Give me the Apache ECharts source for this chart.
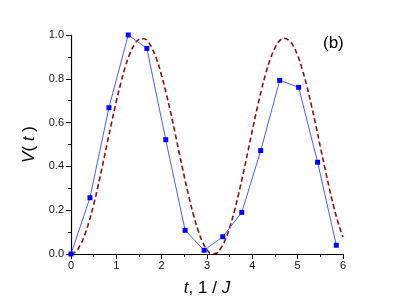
<!DOCTYPE html>
<html>
<head>
<meta charset="utf-8">
<script src="https://cdn.jsdelivr.net/npm/echarts@6/dist/echarts.min.js"></script>
<style>html,body{margin:0;padding:0;background:#fff}#c{width:399px;height:305px}</style>
</head>
<body>
<div id="c"></div>
<script>
// Blue squares (numerical V(t))
const pointT = [0, 0.418, 0.837, 1.262, 1.674, 2.09, 2.518, 2.937, 3.348, 3.767, 4.185, 4.604, 5.022, 5.44, 5.852];
const pointV = [0, 0.257, 0.668, 1.0, 0.939, 0.522, 0.108, 0.017, 0.079, 0.19, 0.472, 0.793, 0.761, 0.419, 0.04];
// Dashed curve samples
const curveT = [0,0.1,0.2,0.3,0.4,0.5,0.6,0.7,0.8,0.9,1.0,1.1,1.2,1.3,1.4,1.5,1.6,1.7,1.8,1.9,2.0,2.1,2.2,2.3,2.4,2.5,2.6,2.7,2.8,2.9,3.0,3.1,3.2,3.3,3.4,3.5,3.6,3.7,3.8,3.9,4.0,4.1,4.2,4.3,4.4,4.5,4.6,4.7,4.8,4.9,5.0,5.1,5.2,5.3,5.4,5.5,5.6,5.7,5.8,5.9,6.0];
const curveV = [0,0.010,0.039,0.086,0.149,0.226,0.314,0.409,0.507,0.604,0.697,0.782,0.856,0.915,0.956,0.980,0.983,0.969,0.934,0.882,0.814,0.734,0.644,0.548,0.449,0.353,0.262,0.180,0.111,0.056,0.020,0.002,0.003,0.025,0.064,0.121,0.193,0.277,0.369,0.466,0.564,0.660,0.748,0.827,0.892,0.941,0.973,0.985,0.977,0.951,0.906,0.844,0.769,0.682,0.588,0.490,0.393,0.299,0.213,0.138,0.077];
const xTicks = [0,1,2,3,4,5,6];
const yTicks = ['0.0','0.2','0.4','0.6','0.8','1.0'];

const chart = echarts.init(document.getElementById('c'), null, {renderer:'canvas'});
const font = 'Liberation Sans, Arial, sans-serif';
chart.setOption({
  animation:false,
  backgroundColor:'#fff',
  grid:{left:71, right:56, top:35, bottom:51},
  xAxis:{
    type:'value', min:0, max:6, interval:1,
    axisLine:{lineStyle:{color:'#000', width:1.2}},
    axisTick:{show:true, inside:false, length:5, lineStyle:{color:'#000'}},
    minorTick:{show:true, splitNumber:2, length:3, lineStyle:{color:'#000'}},
    splitLine:{show:false},
    axisLabel:{color:'#111', fontFamily:font, fontSize:11, margin:6,
      formatter:v=>String(xTicks[Math.round(v)])},
    name:'{i|t}{n|, 1 / }{i|J}',
    nameLocation:'middle', nameGap:26,
    nameTextStyle:{rich:{
      i:{fontStyle:'italic', fontSize:17, fontFamily:font, color:'#000'},
      n:{fontSize:17, fontFamily:font, color:'#000'}}}
  },
  yAxis:{
    type:'value', min:0, max:1, interval:0.2,
    axisLine:{show:true, lineStyle:{color:'#000', width:1.2}},
    axisTick:{show:true, inside:false, length:5, lineStyle:{color:'#000'}},
    minorTick:{show:true, splitNumber:2, length:3, lineStyle:{color:'#000'}},
    splitLine:{show:false},
    axisLabel:{color:'#111', fontFamily:font, fontSize:11, margin:7,
      formatter:v=>yTicks[Math.round(v*5)]},
    name:'{i|V}{n|( }{i|t}{n| )}',
    nameLocation:'middle', nameGap:28, nameRotate:90,
    nameTextStyle:{rich:{
      i:{fontStyle:'italic', fontSize:17, fontFamily:font, color:'#000'},
      n:{fontSize:17, fontFamily:font, color:'#000'}}}
  },
  graphic:[{type:'text', left:323, top:35, style:{text:'(b)', font:'17px Liberation Sans, Arial, sans-serif', fill:'#000'}}],
  series:[
    {type:'line', data:curveT.map((t,i)=>[t,curveV[i]]), showSymbol:false, smooth:true,
     lineStyle:{color:'#8b1010', width:1.6, type:[5,3]}, z:2},
    {type:'line', data:pointT.map((t,i)=>[t,pointV[i]]), symbol:'rect', symbolSize:5,
     itemStyle:{color:'#0000ff'}, lineStyle:{color:'#4a5cff', width:1}, z:3}
  ]
});
</script>
</body>
</html>
